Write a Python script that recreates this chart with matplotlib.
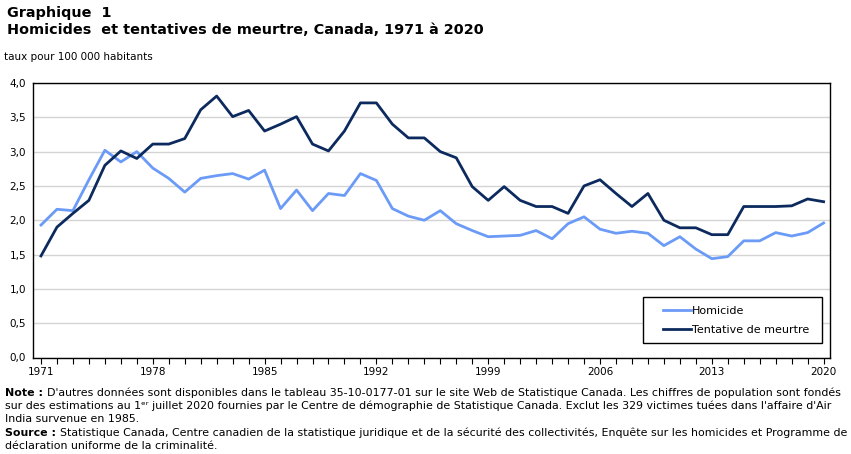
import numpy as np
import matplotlib.pyplot as plt
from matplotlib.patches import Rectangle
from matplotlib.ticker import FuncFormatter, MultipleLocator

# données
annees = list(range(1971, 2021))
homicide = [1.93, 2.16, 2.14, 2.59, 3.02, 2.85, 3.00, 2.76, 2.61, 2.41,
            2.61, 2.65, 2.68, 2.60, 2.73, 2.17, 2.44, 2.14, 2.39, 2.36,
            2.68, 2.58, 2.17, 2.06, 2.00, 2.14, 1.95, 1.85, 1.76, 1.77,
            1.78, 1.85, 1.73, 1.95, 2.05, 1.87, 1.81, 1.84, 1.81, 1.63,
            1.76, 1.58, 1.44, 1.47, 1.70, 1.70, 1.82, 1.77, 1.82, 1.96]
tentative = [1.48, 1.90, 2.10, 2.29, 2.80, 3.01, 2.90, 3.11, 3.11, 3.19,
             3.61, 3.81, 3.51, 3.60, 3.30, 3.40, 3.51, 3.11, 3.01, 3.30,
             3.71, 3.71, 3.40, 3.20, 3.20, 3.00, 2.91, 2.49, 2.29, 2.49,
             2.29, 2.20, 2.20, 2.10, 2.50, 2.59, 2.39, 2.20, 2.39, 2.00,
             1.89, 1.89, 1.79, 1.79, 2.20, 2.20, 2.20, 2.21, 2.31, 2.27]
etiquettes_x = [1971, 1978, 1985, 1992, 1999, 2006, 2013, 2020]

plt.rcParams['font.family'] = ['DejaVu Sans']

W, H = 851, 454
fig = plt.figure(figsize=(W / 100, H / 100), dpi=100)
ax = fig.add_axes([33 / W, 1 - 357.5 / H, (830 - 33) / W, (357.5 - 83) / H])

ax.plot(annees, homicide, color='#6b9bf7', lw=2, label='Homicide')
ax.plot(annees, tentative, color='#0c2a5e', lw=2, label='Tentative de meurtre')

ax.set_xlim(1970.5, 2020.4)
ax.set_ylim(0, 4.0)
ax.set_xticks(etiquettes_x)
ax.xaxis.set_minor_locator(MultipleLocator(1))
ax.yaxis.set_major_locator(MultipleLocator(0.5))
ax.yaxis.set_major_formatter(FuncFormatter(lambda v, p: f"{v:.1f}".replace('.', ',')))
ax.tick_params(axis='x', which='both', direction='out', length=4, width=0.8,
               labelsize=7.5, pad=3, colors='black')
ax.tick_params(axis='y', length=0, labelsize=7.5, pad=5)
ax.grid(axis='y', color='#d4d4d4', lw=1)
ax.set_axisbelow(True)
for s in ax.spines.values():
    s.set_color('black')
    s.set_linewidth(1)

# légende : cadre dessiné à part
ax.add_patch(Rectangle((643 / W, 1 - 343 / H), (822 - 643) / W, (343 - 297) / H,
                       transform=fig.transFigure, facecolor='white',
                       edgecolor='black', lw=1, zorder=4))
leg = ax.legend(loc='upper left', bbox_to_anchor=(654 / W, 1 - 297 / H),
                bbox_transform=fig.transFigure, fontsize=8, frameon=False,
                handlelength=2.5, labelspacing=0.85, borderpad=0.3, handletextpad=0.15)
leg.set_zorder(6)

fig.text(7 / W, 1 - 6 / H, 'Graphique  1', fontsize=10.4, fontweight='bold', va='top')
fig.text(7 / W, 1 - 23 / H, 'Homicides  et tentatives de meurtre, Canada, 1971 à 2020',
         fontsize=10.4, fontweight='bold', va='top')
fig.text(4 / W, 1 - 52 / H, 'taux pour 100 000 habitants', fontsize=7.5, va='top')

note = [
    ("Note : ", "D'autres données sont disponibles dans le tableau 35-10-0177-01 sur le site Web de Statistique Canada. Les chiffres de population sont fondés"),
    ("", "sur des estimations au 1ᵉʳ juillet 2020 fournies par le Centre de démographie de Statistique Canada. Exclut les 329 victimes tuées dans l'affaire d'Air"),
    ("", "India survenue en 1985."),
    ("Source : ", "Statistique Canada, Centre canadien de la statistique juridique et de la sécurité des collectivités, Enquête sur les homicides et Programme de"),
    ("", "déclaration uniforme de la criminalité."),
]
fig.canvas.draw()
for i, (gras, reste) in enumerate(note):
    y = 1 - (396 + i * 13.2) / H
    x = 5 / W
    if gras:
        t = fig.text(x, y, gras, fontsize=7.9, fontweight='bold', va='baseline')
        x = t.get_window_extent(fig.canvas.get_renderer()).x1 / W
    fig.text(x, y, reste, fontsize=7.9, va='baseline')

fig.savefig('out.png', dpi=100)
